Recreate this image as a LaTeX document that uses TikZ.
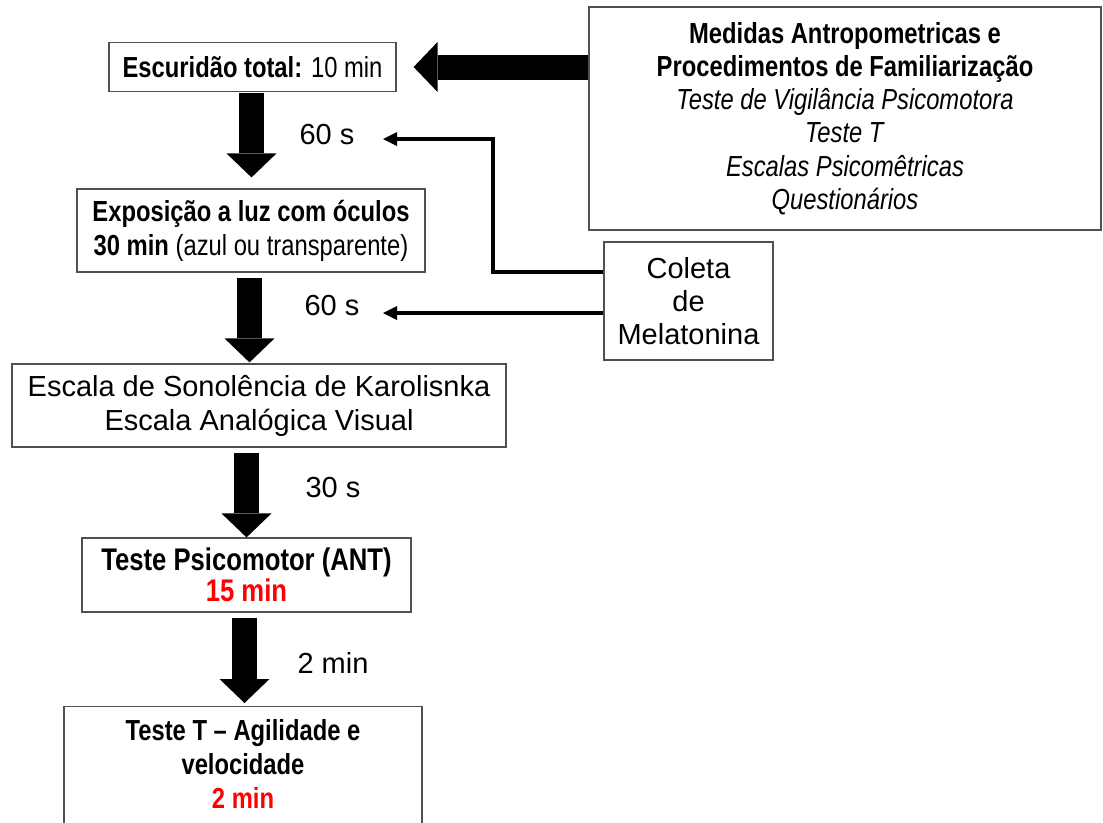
\documentclass[tikz,border=0pt]{standalone}
\usepackage{fontspec}
\setmainfont{Liberation Sans}
\newfontfamily\narrowfont[FakeStretch=0.82, Ligatures=TeX]{Liberation Sans}
\usepackage{xcolor}
\definecolor{fbred}{RGB}{255,0,0}
\definecolor{fbgray}{RGB}{80,80,80}
\newcommand{\boxfont}{\fontsize{29pt}{34pt}\selectfont}
\usetikzlibrary{arrows.meta, positioning, calc}

\begin{document}
\begin{tikzpicture}[x=1pt, y=-1pt,
  stepbox/.style={draw=fbgray, line width=1.2pt, inner sep=0pt, align=center, font=\boxfont},
  narrowbox/.style={stepbox, font=\boxfont\narrowfont},
  timelbl/.style={font=\boxfont, inner sep=0pt},
  bigarrow/.style={line width=25pt, -{Triangle[length=24pt, width=50pt, line width=0pt]}},
  linkarrow/.style={line width=4pt, -{Triangle[length=14pt, width=14pt, line width=0pt]}}]
  \useasboundingbox (0,0) rectangle (1103,822);

  % --- Right side: preparation and saliva collection ---
  \node[narrowbox, minimum width=512pt, minimum height=223pt, font=\fontsize{29pt}{33.2pt}\selectfont\narrowfont] (medidas) at (845,118.5)
    {\textbf{Medidas Antropometricas e}\\ \textbf{Procedimentos de Familiarização}\\
     \textit{Teste de Vigilância Psicomotora}\\ \textit{Teste T}\\
     \textit{Escalas Psicomêtricas}\\ \textit{Questionários}};
  \node[stepbox, minimum width=169pt, minimum height=118pt, font=\fontsize{29pt}{33pt}\selectfont] (coleta) at (688.5,301)
    {Coleta\\ de\\ Melatonina};

  % --- Left column: protocol steps ---
  \node[narrowbox, minimum width=287pt, minimum height=49pt] (escuro) at (252.5,67)
    {\textbf{Escuridão total:} 10 min};
  \node[narrowbox, minimum width=348pt, minimum height=83pt] (luz) at (251,230.5)
    {\textbf{Exposição a luz com óculos}\\ \textbf{30 min} (azul ou transparente)};
  \node[stepbox, minimum width=494pt, minimum height=83pt] (escalas) at (259,405.5)
    {Escala de Sonolência de Karolisnka\\ Escala Analógica Visual};
  \node[narrowbox, minimum width=329pt, minimum height=74pt, font=\fontsize{31.3pt}{30.5pt}\selectfont\narrowfont] (ant) at (246.5,575)
    {\textbf{Teste Psicomotor (ANT)}\\ \textcolor{fbred}{\textbf{15 min}}};
  \node[narrowbox, anchor=north, minimum width=358pt, inner ysep=13pt, text depth=60pt] (agil) at (243,706)
    {\textbf{Teste T – Agilidade e}\\ \textbf{velocidade}\\ \textcolor{fbred}{\textbf{2 min}}};

  % Intervals
  \node[timelbl] (t1) at (327,135) {60 s};
  \node[timelbl] (t2) at (332,306) {60 s};
  \node[timelbl] (t3) at (333,488) {30 s};
  \node[timelbl] (t4) at (333,663) {2 min};

  % Block arrows
  \draw[bigarrow, line width=25pt, shorten >=17pt] (medidas.west |- escuro.east) -- (escuro.east);
  \draw[bigarrow, shorten <=1pt, shorten >=11pt] ([xshift=-1pt]escuro.south) -- ([xshift=-1pt]escuro.south |- luz.north);
  \draw[bigarrow, shorten <=5pt, shorten >=1pt] ([xshift=-1.5pt]luz.south) -- ([xshift=-1.5pt]luz.south |- escalas.north);
  \draw[bigarrow, shorten <=5pt] (ant.north |- escalas.south) -- (ant.north);
  \draw[bigarrow, shorten <=5pt, shorten >=3pt] ([xshift=-2pt]ant.south) -- ([xshift=-2pt]ant.south |- agil.north);

  % Collection arrows
  \coordinate (bend1) at (493,139);
  \coordinate (tip1) at (383,139);
  \coordinate (tip2) at (383,313);
  \draw[linkarrow] ([yshift=29pt]coleta.west) -| (bend1) -- (tip1);
  \draw[linkarrow] ([yshift=-12pt]coleta.west) -- (tip2);
\end{tikzpicture}
\end{document}
